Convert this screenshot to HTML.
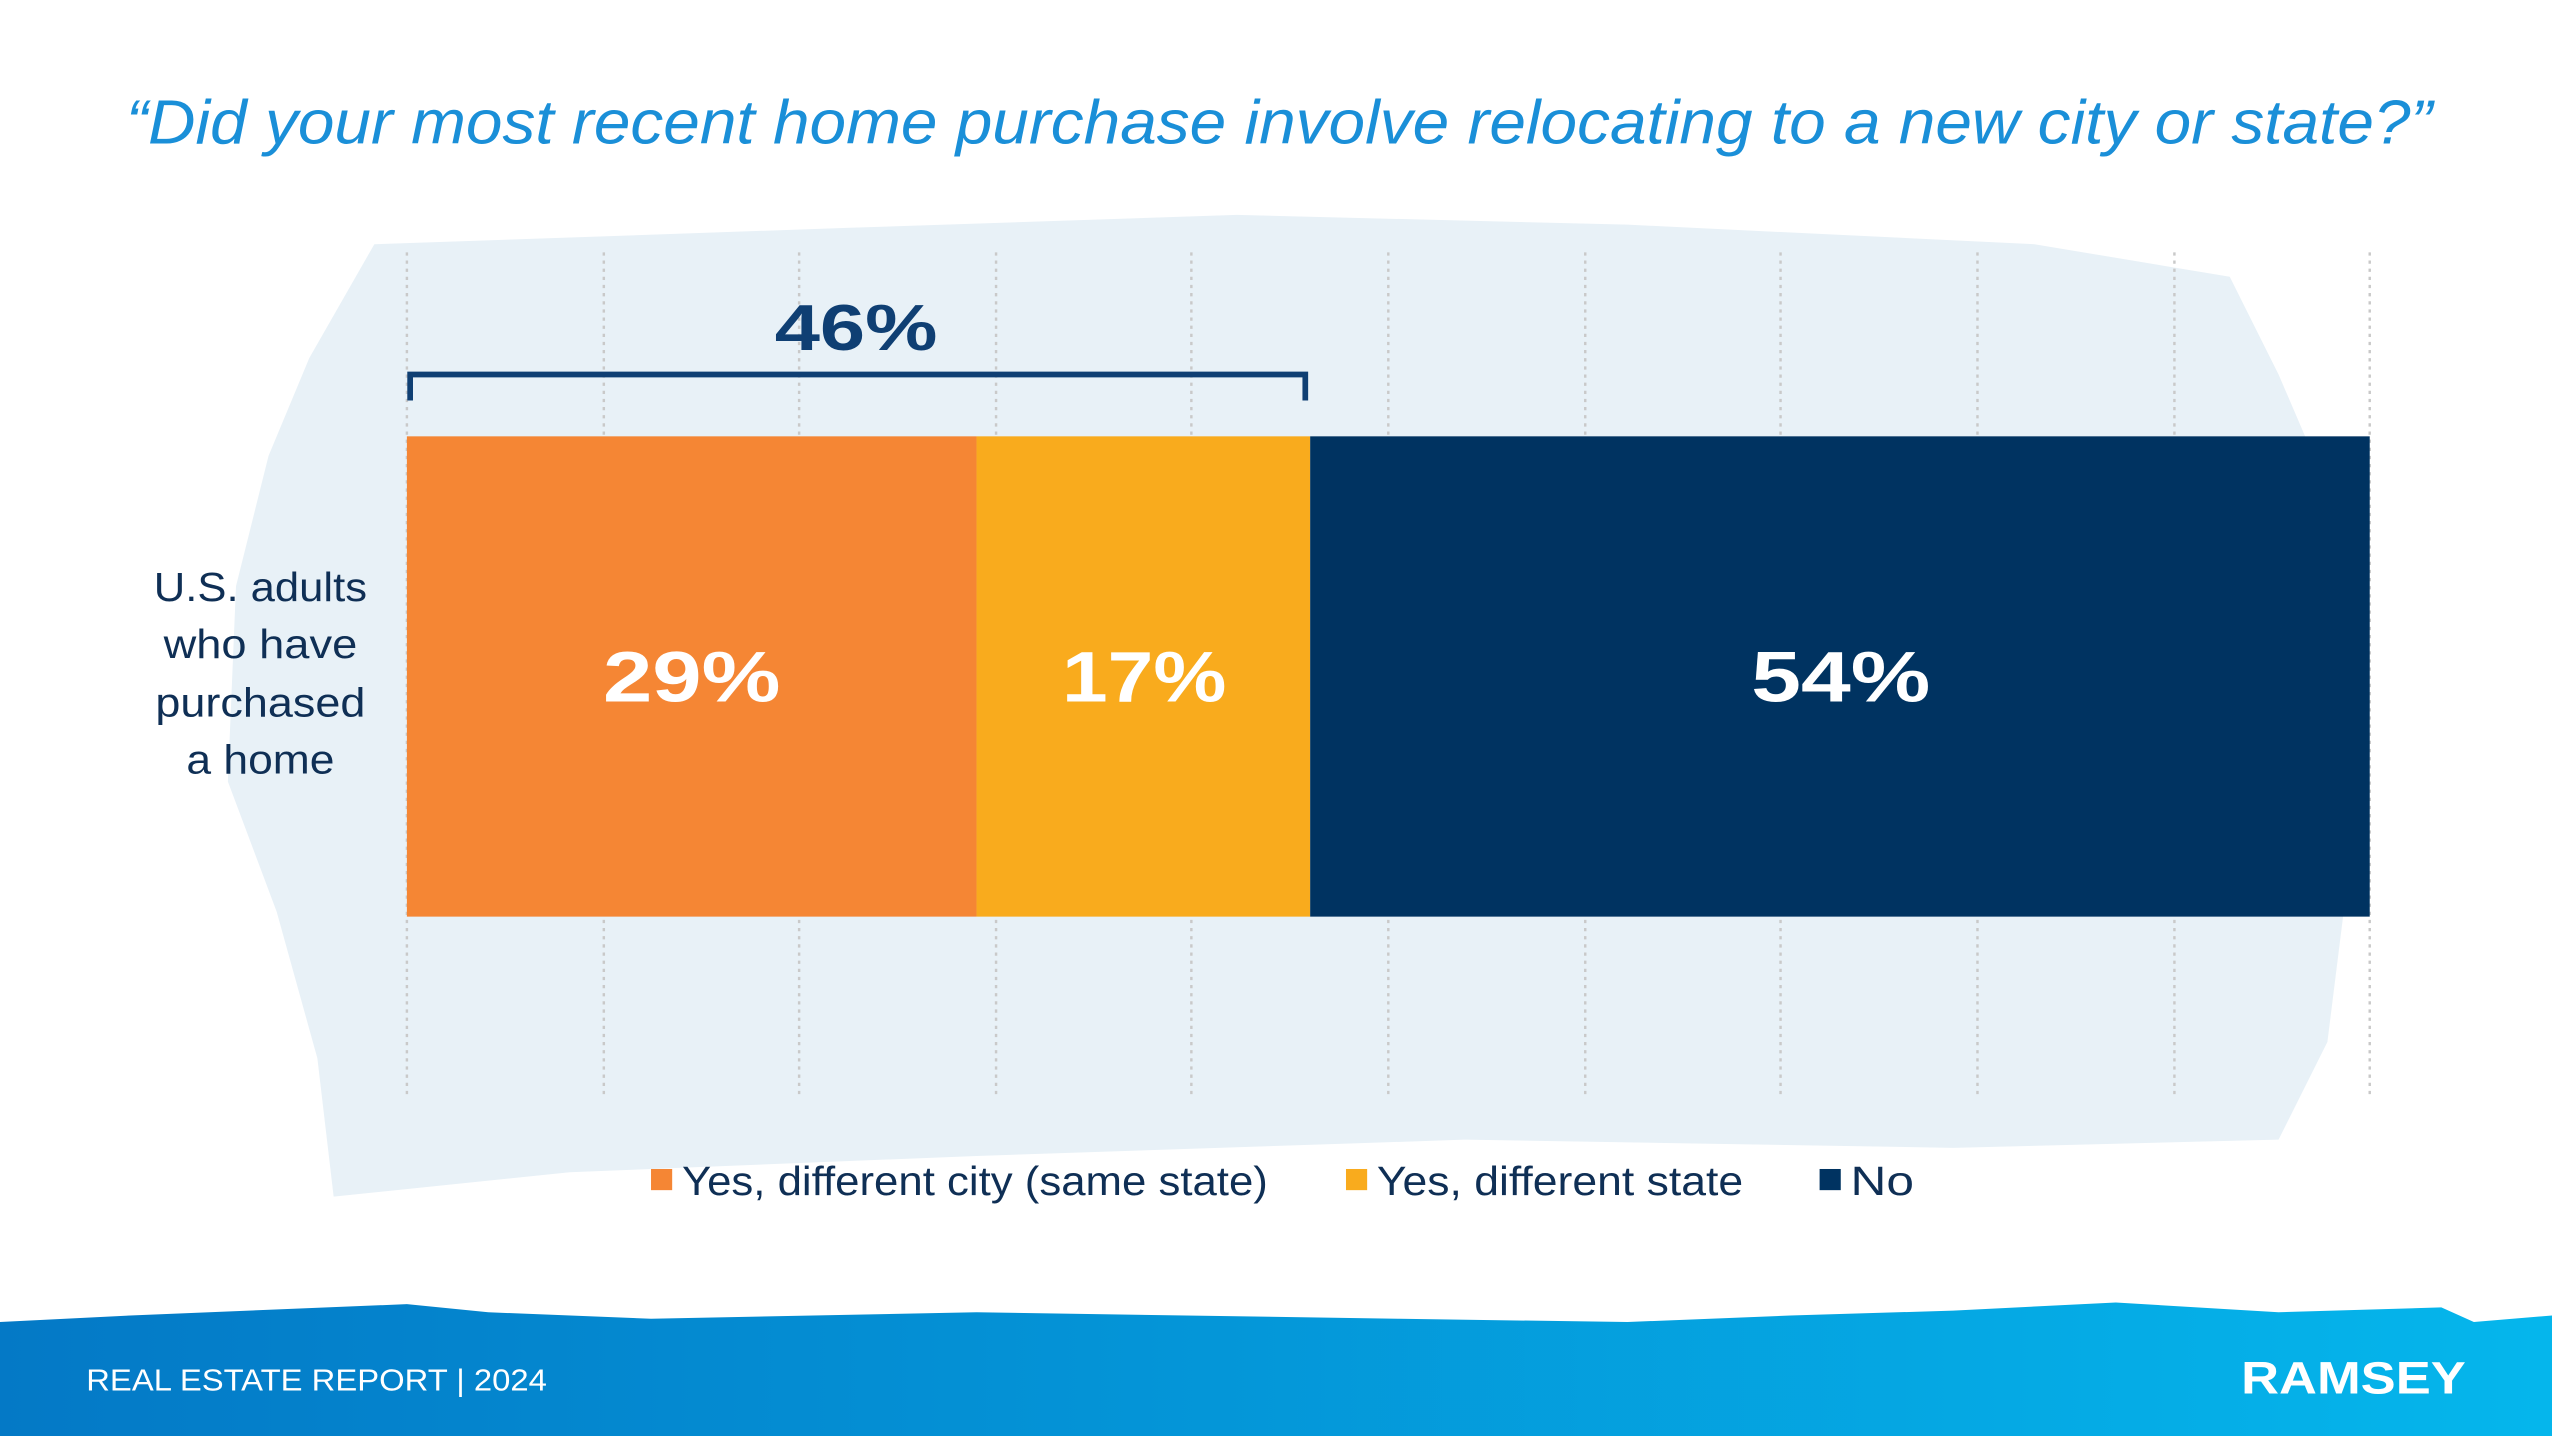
<!DOCTYPE html>
<html><head><meta charset="utf-8"><style>
html,body{margin:0;padding:0;background:#fff;}
svg{display:block;}
text{font-family:"Liberation Sans",sans-serif;}
</style></head><body>
<svg width="2552" height="1436" viewBox="0 0 1568 882" preserveAspectRatio="none" xmlns="http://www.w3.org/2000/svg">
<defs>
<linearGradient id="fg" x1="0" x2="1" y1="0" y2="0">
<stop offset="0" stop-color="#0479c6"/><stop offset="1" stop-color="#05b6ec"/>
</linearGradient>
</defs>
<rect width="1568" height="882" fill="#fff"/>
<path d="M230 150 L520 140 L760 132 L1000 138 L1250 150 L1370 170 L1400 230 L1430 300 L1445 420 L1440 560 L1430 640 L1400 700 L1200 705 L900 700 L600 710 L350 720 L205 735 L195 650 L170 560 L140 480 L145 360 L165 280 L190 220 Z" fill="#e8f1f7"/>
<g stroke="#c9c9c9" stroke-width="1.5" stroke-dasharray="2,3">
<line x1="250" y1="155" x2="250" y2="675"/><line x1="371" y1="155" x2="371" y2="675"/>
<line x1="491" y1="155" x2="491" y2="675"/><line x1="612" y1="155" x2="612" y2="675"/>
<line x1="732" y1="155" x2="732" y2="675"/><line x1="853" y1="155" x2="853" y2="675"/>
<line x1="974" y1="155" x2="974" y2="675"/><line x1="1094" y1="155" x2="1094" y2="675"/>
<line x1="1215" y1="155" x2="1215" y2="675"/><line x1="1336" y1="155" x2="1336" y2="675"/>
<line x1="1456" y1="155" x2="1456" y2="675"/>
</g>
<text x="786" y="88" text-anchor="middle" font-size="38" font-style="italic" fill="#1a8fd8" textLength="1417" lengthAdjust="spacingAndGlyphs">“Did your most recent home purchase involve relocating to a new city or state?”</text>
<rect x="250" y="268" width="350" height="295" fill="#f58634"/>
<rect x="600" y="268" width="205" height="295" fill="#f9ab1d"/>
<rect x="805" y="268" width="651" height="295" fill="#003361"/>
<g font-size="44" font-weight="bold" fill="#fff" text-anchor="middle">
<text x="425" y="431" textLength="109" lengthAdjust="spacingAndGlyphs">29%</text>
<text x="703" y="431" textLength="101" lengthAdjust="spacingAndGlyphs">17%</text>
<text x="1131" y="431" textLength="110" lengthAdjust="spacingAndGlyphs">54%</text>
</g>
<path d="M252 246 L252 230 L802 230 L802 246" fill="none" stroke="#0f3f73" stroke-width="3.5"/>
<text x="526" y="215" text-anchor="middle" font-size="40" font-weight="bold" fill="#0f3f73" textLength="100" lengthAdjust="spacingAndGlyphs">46%</text>
<g font-size="25" fill="#0f2f55" text-anchor="middle">
<text x="160" y="369" textLength="131" lengthAdjust="spacingAndGlyphs">U.S. adults</text>
<text x="160" y="404" textLength="119" lengthAdjust="spacingAndGlyphs">who have</text>
<text x="160" y="440" textLength="129" lengthAdjust="spacingAndGlyphs">purchased</text>
<text x="160" y="475" textLength="91" lengthAdjust="spacingAndGlyphs">a home</text>
</g>
<rect x="400" y="718" width="13" height="13" fill="#f58634"/>
<text x="419" y="734" font-size="25" fill="#0f2f55" textLength="360" lengthAdjust="spacingAndGlyphs">Yes, different city (same state)</text>
<rect x="827" y="718" width="13" height="13" fill="#f9ab1d"/>
<text x="846" y="734" font-size="25" fill="#0f2f55" textLength="225" lengthAdjust="spacingAndGlyphs">Yes, different state</text>
<rect x="1118" y="718" width="13" height="13" fill="#003361"/>
<text x="1137" y="734" font-size="25" fill="#0f2f55" textLength="39" lengthAdjust="spacingAndGlyphs">No</text>
<path d="M0 812 L80 808 L250 801 L300 806 L400 810 L600 806 L860 810 L1000 812 L1100 808 L1200 805 L1300 800 L1400 806 L1500 803 L1520 812 L1568 808 L1568 882 L0 882 Z" fill="url(#fg)"/>
<text x="53" y="854" font-size="19" fill="#fff" textLength="283" lengthAdjust="spacingAndGlyphs">REAL ESTATE REPORT | 2024</text>
<text x="1377" y="856" font-size="28" font-weight="bold" fill="#fff" textLength="138" lengthAdjust="spacingAndGlyphs">RAMSEY</text>
</svg>
</body></html>
